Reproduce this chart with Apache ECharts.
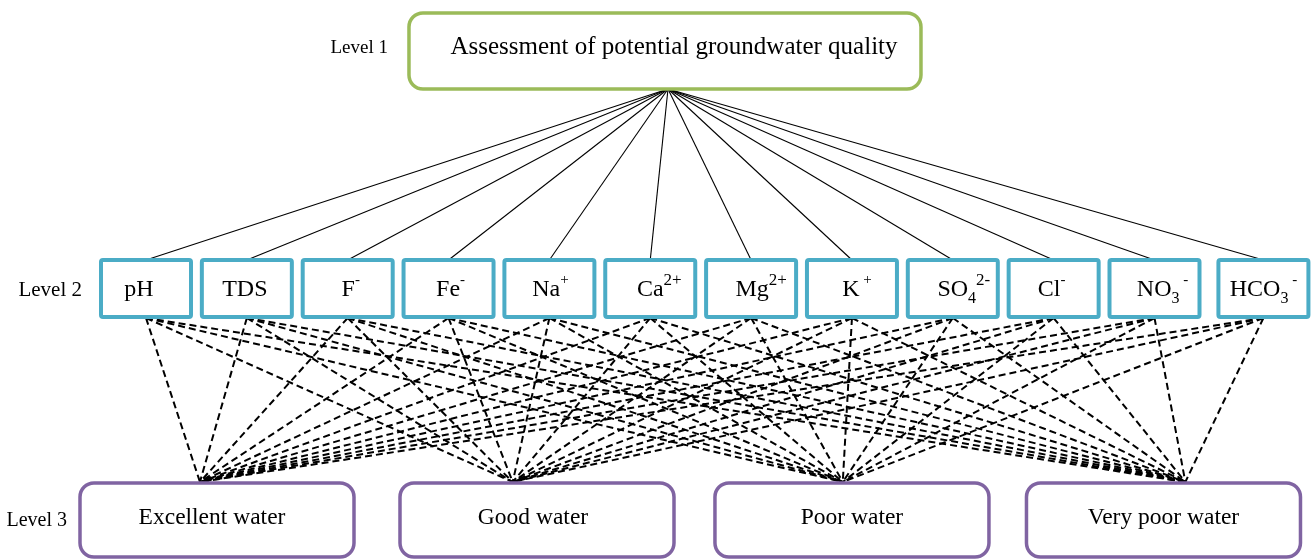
<!DOCTYPE html>
<html>
<head>
<meta charset="utf-8">
<script src="https://cdn.jsdelivr.net/npm/echarts@6/dist/echarts.min.js"></script>
<style>
html,body{margin:0;padding:0;background:#fff;}
#chart{width:1311px;height:560px;}
</style>
</head>
<body>
<div id="chart"></div>
<script>
// ---- content ----
const LEVEL_LABELS = ['Level 1', 'Level 2', 'Level 3'];
const LEVEL1 = ['Assessment of potential groundwater quality'];
const LEVEL2 = ['pH', 'TDS', 'F{sup|-}', 'Fe{sup|-}', 'Na{sup|+}', 'Ca{sup2|2+}', 'Mg{sup2|2+}',
                'K{sup| +}', 'SO{sub|4}{sup2|2-}', 'Cl{sup|-}', 'NO{sub|3}{sup| -}', 'HCO{sub|3}{sup| -}'];
const LEVEL3 = ['Excellent water', 'Good water', 'Poor water', 'Very poor water'];

// ---- layout (axis units: x = slot index of level-2 items, y = level row) ----
const ROWS = [1, 2.0128, 3];
const SLOTS = [[5.146], [0, 1, 2, 3, 4, 5, 6, 7, 8, 9, 10, 11.08], [0.704, 3.877, 7.0, 10.089]];
const APEX1 = [5.176];
const APEX3 = [0.535, 3.636, 6.909, 10.306];

const FONT = "'Liberation Serif', 'Times New Roman', serif";
const STY = [
  { w: 512, h: 76, r: 14, stroke: '#9BBB59', lw: 3.5, fs: 25, dy: -4, lab: 21, labFs: 19, labDy: -3 },
  { w: 90, h: 57, r: 2, stroke: '#4BACC6', lw: 4, fs: 24, dy: 1, lab: 19, labFs: 21, labDy: 2 },
  { w: 274, h: 74, r: 14, stroke: '#8064A2', lw: 3.5, fs: 23.5, dy: -2, lab: 13, labFs: 20, labDy: 1 }
];
const TEXT_DX = [[9], [-7, -2, 3, 2, 1, 9, 10, 5, 11, -2, 8, 0], [-5, -4, 0, 0]];

const LEVELS = [LEVEL1, LEVEL2, LEVEL3];
const boxData = [];
LEVELS.forEach((names, lv) => names.forEach((n, i) => boxData.push([SLOTS[lv][i], ROWS[lv], lv, i])));

const linkData = [];
LEVEL2.forEach((n, i) => {
  linkData.push([APEX1[0], ROWS[0], SLOTS[1][i], ROWS[1], 0]);
});
LEVEL2.forEach((n, i) => {
  LEVEL3.forEach((m, j) => {
    linkData.push([SLOTS[1][i], ROWS[1], APEX3[j], ROWS[2], 1]);
  });
});

const rich = {
  sup: { fontFamily: FONT, fontSize: 15, lineHeight: 14, verticalAlign: 'top', fill: '#000' },
  sup2: { fontFamily: FONT, fontSize: 17, lineHeight: 16, verticalAlign: 'top', fill: '#000' },
  sub: { fontFamily: FONT, fontSize: 16, lineHeight: 22, verticalAlign: 'bottom', fill: '#000' }
};

const chart = echarts.init(document.getElementById('chart'), null, { renderer: 'canvas' });
chart.setOption({
  animation: false,
  backgroundColor: '#fff',
  grid: { left: 146, right: 55.65, top: 51, bottom: 40, containLabel: false },
  xAxis: { type: 'value', min: 0, max: 11, show: false },
  yAxis: { type: 'value', min: 1, max: 3, inverse: true, show: false },
  series: [
    {
      type: 'custom',
      name: 'links',
      clip: false,
      z: 1,
      silent: true,
      data: linkData,
      encode: { x: [0, 2], y: [1, 3] },
      renderItem: function (params, api) {
        const dashed = api.value(4) === 1;
        const a = api.coord([api.value(0), api.value(1)]);
        const b = api.coord([api.value(2), api.value(3)]);
        let y1, y2;
        if (dashed) {
          y1 = a[1] + STY[1].h / 2 + 1;
          y2 = b[1] - STY[2].h / 2 - 1;
        } else {
          y1 = a[1] + STY[0].h / 2;
          y2 = b[1] - STY[1].h / 2;
        }
        return {
          type: 'line',
          shape: { x1: a[0], y1: y1, x2: b[0], y2: y2 },
          style: dashed ? { stroke: '#000', lineWidth: 2, lineDash: [7, 4] } : { stroke: '#000', lineWidth: 1.1 }
        };
      }
    },
    {
      type: 'custom',
      name: 'boxes',
      clip: false,
      z: 2,
      silent: true,
      data: boxData,
      encode: { x: 0, y: 1 },
      renderItem: function (params, api) {
        const lv = api.value(2), idx = api.value(3);
        const s = STY[lv];
        const c = api.coord([api.value(0), api.value(1)]);
        const cy = c[1];
        const children = [
          {
            type: 'rect',
            shape: { x: c[0] - s.w / 2, y: cy - s.h / 2, width: s.w, height: s.h, r: s.r },
            style: { fill: '#fff', stroke: s.stroke, lineWidth: s.lw }
          },
          {
            type: 'text',
            style: {
              text: LEVELS[lv][idx],
              x: c[0] + TEXT_DX[lv][idx],
              y: cy + s.dy,
              align: 'center',
              verticalAlign: 'middle',
              fontFamily: FONT,
              fontSize: s.fs,
              lineHeight: lv === 1 ? 34 : s.fs,
              fill: '#000',
              rich: rich
            }
          }
        ];
        if (idx === 0) {
          children.push({
            type: 'text',
            style: {
              text: LEVEL_LABELS[lv],
              x: c[0] - s.w / 2 - s.lab,
              y: cy + s.labDy,
              align: 'right',
              verticalAlign: 'middle',
              fontFamily: FONT,
              fontSize: s.labFs,
              fill: '#000'
            }
          });
        }
        return { type: 'group', children: children };
      }
    }
  ]
});
</script>
</body>
</html>
